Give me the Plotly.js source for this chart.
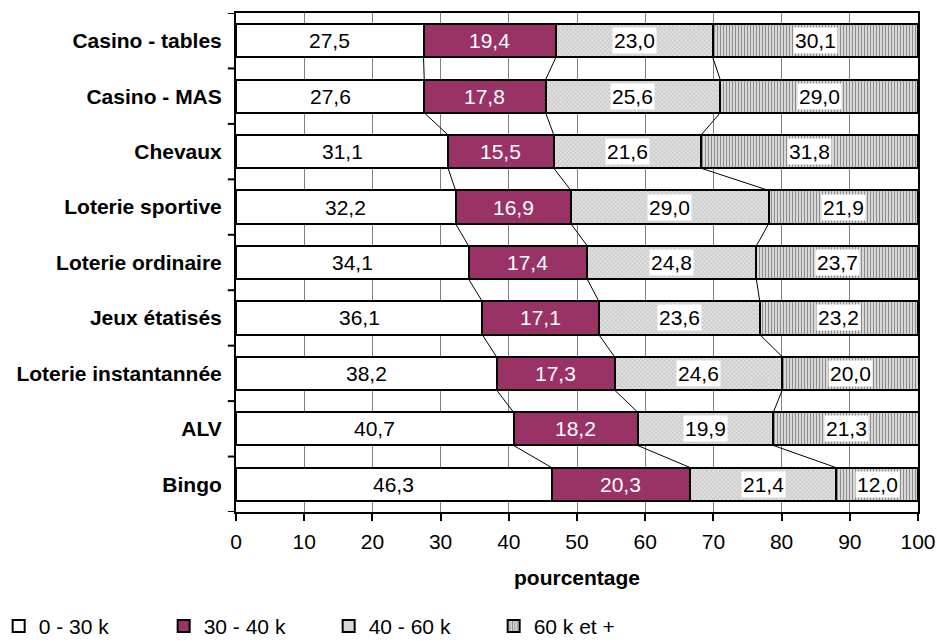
<!DOCTYPE html>
<html>
<head>
<meta charset="utf-8">
<script src="https://cdn.plot.ly/plotly-3.0.1.min.js"></script>
<style>html,body{margin:0;padding:0;background:#fff}#chart{width:937px;height:641px}</style>
</head>
<body>
<div id="chart"></div>
<script>
const categories = ["Casino - tables","Casino - MAS","Chevaux","Loterie sportive","Loterie ordinaire","Jeux étatisés","Loterie instantannée","ALV","Bingo"];
const seriesNames = ["0 - 30 k","30 - 40 k","40 - 60 k","60 k et +"];
const s0_30 = [27.5,27.6,31.1,32.2,34.1,36.1,38.2,40.7,46.3];
const s30_40 = [19.4,17.8,15.5,16.9,17.4,17.1,17.3,18.2,20.3];
const s40_60 = [23.0,25.6,21.6,29.0,24.8,23.6,24.6,19.9,21.4];
const s60p = [30.1,29.0,31.8,21.9,23.7,23.2,20.0,21.3,12.0];
const xTicks = [0,10,20,30,40,50,60,70,80,90,100];

const FONT = 'Arial, "Liberation Sans", sans-serif';
const BW = 0.6;
const ypos = categories.map((c,i)=>i);
const series = [s0_30,s30_40,s40_60,s60p];

const styles = [
  {color:'#ffffff'},
  {color:'#993366'},
  {color:'#cccccc', pattern:{shape:'x', size:3, solidity:0.15, fgcolor:'#8a8a8a', bgcolor:'#e0e0e0'}},
  {color:'#c8c8c8', pattern:{shape:'|', size:3, solidity:0.45, fgcolor:'#8c8c8c', bgcolor:'#e8e8e8'}}
];

const traces = series.map((vals,k)=>{
  const m = {color: styles[k].color, line:{color:'#000', width:2}};
  if (styles[k].pattern) m.pattern = styles[k].pattern;
  return {type:'bar', orientation:'h', name: seriesNames[k], x: vals, y: ypos,
          width: BW, marker: m, hoverinfo:'skip'};
});

// cumulative boundaries
const cum = [];
let run = categories.map(()=>0);
series.forEach((vals,k)=>{
  const start = run.slice();
  run = run.map((r,i)=>r+vals[i]);
  cum.push({start, end: run.slice()});
});

// series connecting lines
for (let k=0;k<3;k++){
  const xs=[], ys=[];
  for (let i=0;i<categories.length-1;i++){
    xs.push(cum[k].end[i], cum[k].end[i+1], null);
    ys.push(ypos[i]+BW/2, ypos[i+1]-BW/2, null);
  }
  traces.push({type:'scatter', mode:'lines', x:xs, y:ys, showlegend:false, hoverinfo:'skip',
               line:{color:'#000', width:1}, connectgaps:false});
}

const annotations = [];
series.forEach((vals,k)=>{
  vals.forEach((v,i)=>{
    const a = {x: cum[k].start[i] + v/2, y: ypos[i], xref:'x', yref:'y',
      text: v.toFixed(1).replace('.', ','), showarrow:false,
      font:{family:FONT, size:21, color: k===1 ? '#ffffff' : '#000000'}};
    if (k>=2){ a.bgcolor='#ffffff'; a.borderpad=1; }
    annotations.push(a);
  });
});

const shapes = [];
for (let i=0;i<=categories.length;i++){
  shapes.push({type:'line', xref:'paper', yref:'y', x0:-0.012, x1:0, y0:i-0.5, y1:i-0.5,
               line:{color:'#000', width:2}});
}

const layout = {
  width:937, height:641,
  margin:{l:236, r:19, t:13, b:129, autoexpand:false},
  paper_bgcolor:'#fff', plot_bgcolor:'#fff',
  barmode:'stack',
  font:{family:FONT, size:21, color:'#000'},
  showlegend:true,
  legend:{orientation:'h', x:-0.348, xanchor:'left', y:-0.188, yanchor:'top',
          font:{family:FONT, size:21, color:'#000'}, entrywidth:120, traceorder:'normal',
          itemwidth:30, tracegroupgap:0},
  xaxis:{range:[0,100], tickvals:xTicks, ticktext:xTicks.map(String), ticks:'outside', ticklen:7, tickwidth:2,
         tickcolor:'#000', showline:true, linewidth:2, linecolor:'#000', mirror:true,
         showgrid:true, gridcolor:'#808080', gridwidth:1, zeroline:false,
         tickfont:{family:FONT, size:21}, ticklabelstandoff:3,
         title:{text:'<b>pourcentage</b>', font:{family:FONT, size:21}, standoff:18}, fixedrange:true},
  yaxis:{range:[8.5,-0.5], tickvals:ypos, ticktext:categories.map(c=>'<b>'+c+'</b>'), ticks:'',
         showline:true, linewidth:2, linecolor:'#000', mirror:true, showgrid:false, zeroline:false,
         tickfont:{family:FONT, size:21}, ticklabelstandoff:8, fixedrange:true},
  annotations, shapes
};

Plotly.newPlot('chart', traces, layout, {staticPlot:true, displayModeBar:false});
</script>
</body>
</html>
